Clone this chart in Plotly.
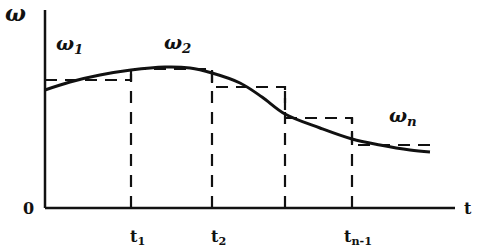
import plotly.graph_objects as go

# curve (x in px from y-axis, y in px above x-axis)
curve_x = [0, 25, 55, 86, 120, 145, 167, 195, 217, 240, 275, 307, 335, 365, 385]
curve_y = [118, 126, 133, 138, 141, 140, 135, 125, 111, 94, 80, 69, 63, 58, 56]

# step approximation
step_edges = [0, 86, 167, 240, 307, 392]
step_levels = [128, 139, 121, 90, 63]

tick_x = [86, 167, 240, 307]
tick_labels = ["t<sub>1</sub>", "t<sub>2</sub>", "", "t<sub>n-1</sub>"]

seg_labels = ["ω<sub>1</sub>", "ω<sub>2</sub>", "ω<sub>n</sub>"]
seg_label_x = [24, 132, 358]
seg_label_y = [164, 165, 92]

x_max = 410
y_max = 198

fig = go.Figure()
ink = "#111"

# axes
fig.add_trace(go.Scatter(x=[0, x_max], y=[0, 0], mode="lines",
                         line=dict(color=ink, width=2.5), hoverinfo="skip"))
fig.add_trace(go.Scatter(x=[0, 0], y=[0, y_max], mode="lines",
                         line=dict(color=ink, width=2.5), hoverinfo="skip"))

# step line (dashed)
sx, sy = [], []
for i, lvl in enumerate(step_levels):
    sx += [step_edges[i], step_edges[i + 1]]
    sy += [lvl, lvl]
fig.add_trace(go.Scatter(x=sx, y=sy, mode="lines",
                         line=dict(color=ink, width=2.2, dash="12px,8px"), hoverinfo="skip"))

# vertical dashed lines
for i, tx in enumerate(tick_x):
    top = max(step_levels[i], step_levels[i + 1])
    fig.add_trace(go.Scatter(x=[tx, tx], y=[0, top], mode="lines",
                             line=dict(color=ink, width=2.2, dash="12px,9px"), hoverinfo="skip"))

# curve
fig.add_trace(go.Scatter(x=curve_x, y=curve_y, mode="lines", line_shape="spline",
                         line=dict(color=ink, width=3), hoverinfo="skip"))

font = dict(family="DejaVu Serif", size=16, color=ink)
ann = []
for tx, lab in zip(tick_x, tick_labels):
    if lab:
        ann.append(dict(x=tx + 6, y=-29, text="<b>" + lab + "</b>", showarrow=False, font=font))
for lab, lx, ly in zip(seg_labels, seg_label_x, seg_label_y):
    ann.append(dict(x=lx, y=ly, text="<b><i>" + lab + "</i></b>", showarrow=False,
                    font=dict(family="DejaVu Serif", size=19, color=ink)))
ann.append(dict(x=-17, y=0, text="<b>0</b>", showarrow=False, font=font))
ann.append(dict(x=423, y=0, text="<b>t</b>", showarrow=False, font=font))
ann.append(dict(x=-30, y=195, text="<b><i>ω</i></b>", showarrow=False,
                font=dict(family="DejaVu Serif", size=22, color=ink)))
for a in ann:
    a["xref"] = "x"
    a["yref"] = "y"

fig.update_layout(
    width=485, height=248,
    margin=dict(l=0, r=0, t=0, b=0),
    paper_bgcolor="white", plot_bgcolor="white",
    showlegend=False,
    xaxis=dict(range=[-45, 440], visible=False, fixedrange=True),
    yaxis=dict(range=[-40, 208], visible=False, fixedrange=True),
    annotations=ann,
)
fig.write_html("out.html", config={"displayModeBar": False})
